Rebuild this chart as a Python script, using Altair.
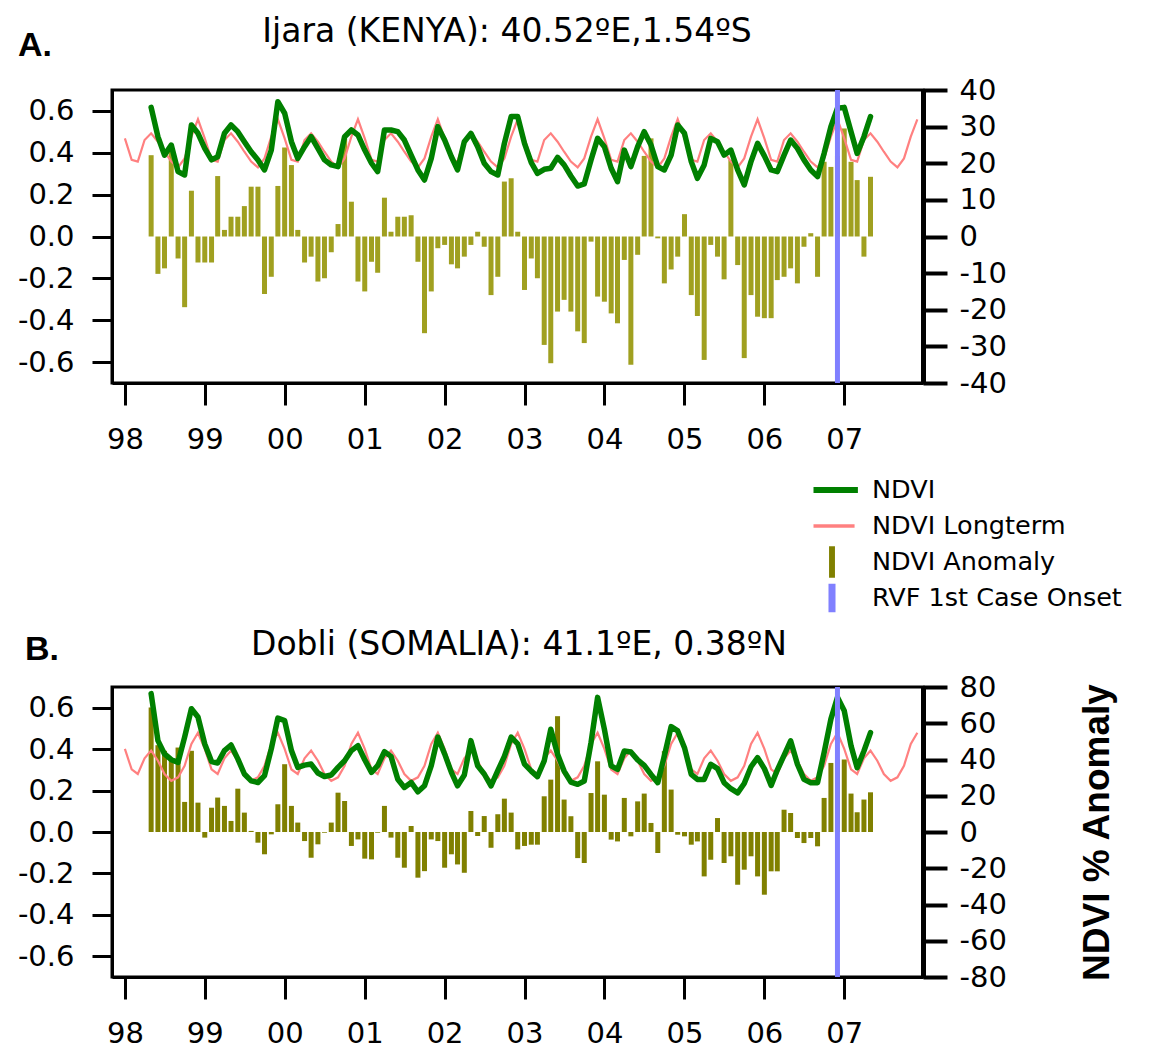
import altair as alt
import pandas as pd

# ---------------- data ----------------
# monthly values from May 1998 (first) to May 2007 (last)
A_NDVI = [0.617, 0.477, 0.389, 0.437, 0.310, 0.294, 0.533, 0.493, 0.421, 0.366, 0.381, 0.493,
          0.533, 0.501, 0.453, 0.405, 0.366, 0.318, 0.413, 0.644, 0.589, 0.453, 0.373, 0.429,
          0.477, 0.421, 0.366, 0.342, 0.334, 0.477, 0.509, 0.485, 0.413, 0.350, 0.310, 0.509,
          0.509, 0.501, 0.461, 0.389, 0.318, 0.270, 0.373, 0.525, 0.461, 0.381, 0.318, 0.453,
          0.493, 0.429, 0.350, 0.310, 0.294, 0.445, 0.573, 0.573, 0.445, 0.353, 0.302, 0.321,
          0.326, 0.378, 0.342, 0.289, 0.241, 0.251, 0.366, 0.469, 0.429, 0.326, 0.262, 0.413,
          0.334, 0.429, 0.501, 0.437, 0.334, 0.318, 0.389, 0.533, 0.493, 0.358, 0.278, 0.342,
          0.469, 0.453, 0.389, 0.413, 0.318, 0.246, 0.358, 0.445, 0.385, 0.318, 0.310, 0.389,
          0.461, 0.421, 0.366, 0.318, 0.286, 0.397, 0.525, 0.613, 0.617, 0.501, 0.397, 0.477,
          0.573]
A_ANOM = [22.2, -10.2, -8.7, 24.7, -6.0, -19.3, 12.5, -7.1, -7.1, -7.1, 16.5, 1.8,
          5.4, 5.4, 8.3, 13.6, 13.6, -15.7, -11.0, 13.8, 24.3, 19.5, 1.8, -7.1,
          -5.5, -12.3, -11.4, -4.3, 3.4, 26.8, 9.5, -12.3, -15.0, -6.9, -9.9, 10.6,
          1.3, 5.4, 5.4, 5.8, -6.9, -26.4, -15.0, -3.2, -2.3, -7.6, -8.7, -5.5,
          -2.3, 1.3, -2.8, -16.0, -11.0, 15.0, 15.9, 1.3, -14.6, -6.0, -11.4, -29.6,
          -34.6, -20.5, -17.3, -20.5, -25.9, -29.1, -1.4, -16.4, -17.8, -21.0, -23.7, -6.4,
          -35.0, -5.0, 22.0, 26.8, -0.5, -12.8, -9.0, -5.5, 6.1, -16.0, -21.7, -33.7,
          -2.3, -5.5, -11.7, 20.9, -7.8, -33.2, -16.0, -21.9, -22.3, -22.3, -11.9, -11.0,
          -8.7, -12.8, -2.8, 0.9, -11.0, 20.4, 19.0, 22.0, 29.5, 20.4, 15.4, -5.5,
          16.3]
# long-term NDVI, Jan 1998 .. Dec 2007 (one row per year)
A_LT = [
    0.469, 0.366, 0.358, 0.461, 0.493, 0.453, 0.405, 0.358, 0.330, 0.373, 0.477, 0.560,
    0.469, 0.366, 0.358, 0.461, 0.493, 0.453, 0.405, 0.358, 0.330, 0.373, 0.477, 0.560,
    0.469, 0.366, 0.358, 0.461, 0.493, 0.453, 0.405, 0.358, 0.330, 0.373, 0.477, 0.560,
    0.469, 0.366, 0.358, 0.461, 0.493, 0.453, 0.405, 0.358, 0.330, 0.373, 0.477, 0.560,
    0.469, 0.366, 0.358, 0.461, 0.493, 0.453, 0.405, 0.358, 0.330, 0.373, 0.477, 0.560,
    0.469, 0.366, 0.358, 0.461, 0.493, 0.453, 0.405, 0.358, 0.330, 0.373, 0.477, 0.560,
    0.469, 0.366, 0.358, 0.461, 0.493, 0.453, 0.405, 0.358, 0.330, 0.373, 0.477, 0.560,
    0.469, 0.366, 0.358, 0.461, 0.493, 0.453, 0.405, 0.358, 0.330, 0.373, 0.477, 0.560,
    0.469, 0.366, 0.358, 0.461, 0.493, 0.453, 0.405, 0.358, 0.330, 0.373, 0.477, 0.560,
    0.469, 0.366, 0.358, 0.461, 0.493, 0.453, 0.405, 0.358, 0.330, 0.373, 0.477, 0.560]

B_NDVI = [0.668, 0.441, 0.377, 0.349, 0.336, 0.458, 0.595, 0.555, 0.425, 0.340, 0.333, 0.393,
          0.420, 0.353, 0.280, 0.247, 0.239, 0.272, 0.401, 0.550, 0.538, 0.393, 0.312, 0.323,
          0.328, 0.285, 0.268, 0.275, 0.312, 0.344, 0.393, 0.417, 0.349, 0.288, 0.320, 0.388,
          0.365, 0.255, 0.215, 0.239, 0.194, 0.223, 0.320, 0.458, 0.377, 0.288, 0.223, 0.275,
          0.441, 0.320, 0.280, 0.223, 0.296, 0.365, 0.458, 0.425, 0.328, 0.294, 0.267, 0.343,
          0.496, 0.375, 0.294, 0.241, 0.230, 0.246, 0.432, 0.650, 0.496, 0.319, 0.302, 0.391,
          0.386, 0.348, 0.322, 0.278, 0.238, 0.367, 0.509, 0.488, 0.407, 0.278, 0.254, 0.254,
          0.327, 0.306, 0.238, 0.209, 0.189, 0.234, 0.315, 0.359, 0.306, 0.225, 0.299, 0.370,
          0.440, 0.327, 0.254, 0.238, 0.238, 0.383, 0.545, 0.650, 0.585, 0.416, 0.310, 0.391,
          0.480]
B_ANOM = [68.7, 47.9, 44.8, 40.2, 46.6, 16.6, 44.8, 16.2, -3.1, 13.4, 19.0, 14.4,
          6.1, 23.9, 10.7, 0.6, -5.9, -12.3, -1.3, 15.3, 37.4, 14.4, 5.2, -5.0,
          -14.2, -6.8, -0.4, 5.2, 21.7, 17.1, -7.7, -4.1, -14.7, -15.1, -0.4, 14.4,
          -3.1, -14.2, -19.7, 3.3, -25.2, -21.6, -4.1, -5.0, -19.7, -12.3, -17.9, -22.5,
          11.6, -2.2, 8.8, -8.7, 9.8, 18.4, 10.7, -9.6, -7.7, -7.0, -7.0, 19.7,
          28.9, 63.9, 17.9, 8.7, -14.4, -17.1, 21.5, 39.0, 20.6, -4.2, -5.2, 18.8,
          -2.4, 16.9, 21.2, 5.0, -11.6, 44.6, 23.4, -1.5, -2.4, -7.0, -5.2, -24.5,
          -15.3, 7.7, -17.1, -13.4, -29.1, -20.8, -13.4, -24.5, -34.6, -21.7, -21.7, 12.3,
          10.5, -3.3, -6.1, -3.3, -7.9, 18.8, 38.1, 40.0, 40.0, 21.2, 10.9, 17.9,
          21.9]
B_LT = [
    0.401, 0.302, 0.280, 0.356, 0.393, 0.344, 0.280, 0.247, 0.264, 0.320, 0.425, 0.479,
    0.401, 0.302, 0.280, 0.356, 0.393, 0.344, 0.280, 0.247, 0.264, 0.320, 0.425, 0.479,
    0.401, 0.302, 0.280, 0.356, 0.393, 0.344, 0.280, 0.247, 0.264, 0.320, 0.425, 0.479,
    0.401, 0.302, 0.280, 0.356, 0.393, 0.344, 0.280, 0.247, 0.264, 0.320, 0.425, 0.479,
    0.401, 0.302, 0.280, 0.356, 0.393, 0.344, 0.280, 0.247, 0.264, 0.320, 0.425, 0.479,
    0.401, 0.302, 0.280, 0.356, 0.393, 0.344, 0.280, 0.247, 0.264, 0.320, 0.425, 0.479,
    0.401, 0.302, 0.280, 0.356, 0.393, 0.344, 0.280, 0.247, 0.264, 0.320, 0.425, 0.479,
    0.401, 0.302, 0.280, 0.356, 0.393, 0.344, 0.280, 0.247, 0.264, 0.320, 0.425, 0.479,
    0.401, 0.302, 0.280, 0.356, 0.393, 0.344, 0.280, 0.247, 0.264, 0.320, 0.425, 0.479,
    0.401, 0.302, 0.280, 0.356, 0.393, 0.344, 0.280, 0.247, 0.264, 0.320, 0.425, 0.479]

RVF_ONSET = ["2006-12-01"]
YEAR_TICKS = [1998, 1999, 2000, 2001, 2002, 2003, 2004, 2005, 2006, 2007]
LEFT_TICKS = [-0.6, -0.4, -0.2, 0.0, 0.2, 0.4, 0.6]
A_RIGHT_TICKS = [-40, -30, -20, -10, 0, 10, 20, 30, 40]
B_RIGHT_TICKS = [-80, -60, -40, -20, 0, 20, 40, 60, 80]
LEGEND_NAMES = ["NDVI", "NDVI Longterm", "NDVI Anomaly", "RVF 1st Case Onset"]
LEGEND_COLORS = ["#008000", "#FF8080", "#808000", "#8080FF"]
LEGEND_SHAPES = ["M-1.4,-0.16H1.4V0.16H-1.4Z",
                 "M-1.22,-0.1H1.22V0.1H-1.22Z",
                 "M-0.16,-0.85H0.16V0.85H-0.16Z",
                 "M-0.19,-0.77H0.19V0.77H-0.19Z"]
TITLES = ["Ijara (KENYA): 40.52ºE,1.54ºS", "Dobli (SOMALIA): 41.1ºE, 0.38ºN"]
LETTERS = ["A.", "B."]


def month_list(y0, m0, n):
    out = []
    y, m = y0, m0
    for _ in range(n):
        out.append(f"{y:04d}-{m:02d}-01")
        m += 1
        if m > 12:
            m = 1
            y += 1
    return out


obs_dates = month_list(1998, 5, len(A_NDVI))
lt_dates = month_list(1998, 1, len(A_LT))

dfA = pd.DataFrame({"date": obs_dates, "ndvi": A_NDVI, "anom": A_ANOM})
dfB = pd.DataFrame({"date": obs_dates, "ndvi": B_NDVI, "anom": B_ANOM})
dfA_lt = pd.DataFrame({"date": lt_dates, "lt": A_LT})
dfB_lt = pd.DataFrame({"date": lt_dates, "lt": B_LT})
df_rvf = pd.DataFrame({"date": RVF_ONSET})

W = 811
FONT = "DejaVu Sans"
TICK_FS = 29

X = alt.X(
    "date:T",
    scale=alt.Scale(type="utc",
                    domain=[alt.DateTime(year=1997, month=11, date=26, utc=True),
                            alt.DateTime(year=2007, month=12, date=4, utc=True)]),
    axis=alt.Axis(values=[alt.DateTime(year=y, month=1, date=1, utc=True) for y in YEAR_TICKS],
                  labelExpr="utcFormat(datum.value, '%y')", title=None, tickSize=22,
                  tickWidth=3, domainWidth=3, domainColor="black", tickColor="black",
                  labelPadding=20, labelFontSize=TICK_FS, labelFont=FONT,
                  labelColor="black", grid=False),
)

left_axis = alt.Axis(orient="left", values=LEFT_TICKS, title=None, tickSize=20, tickWidth=3,
                     domainWidth=3, domainColor="black", tickColor="black",
                     labelPadding=18, labelFontSize=TICK_FS, labelFont=FONT,
                     labelColor="black", grid=False,
                     labelExpr="datum.value < 0 ? '-' + format(-datum.value, '.1f') : format(datum.value, '.1f')")


def panel(df, df_lt, rdomain, rticks, bar_color, title, title_x, title_y, letter,
          letter_x, letter_y, height, right_title=None, with_legend=False):
    raxis_kw = dict(orient="right", values=rticks, tickSize=24, tickWidth=4, domainWidth=5,
                    domainColor="black", tickColor="black",
                    labelPadding=12, labelFontSize=TICK_FS, labelFont=FONT, labelColor="black",
                    grid=False,
                    labelExpr="datum.value < 0 ? '-' + format(-datum.value, 'd') : format(datum.value, 'd')")
    if right_title:
        raxis_kw.update(title=right_title, titleFont="Liberation Sans", titleFontWeight="bold",
                        titleFontSize=37, titleAngle=270, titleX=174, titleY=height / 2,
                        titleAlign="center", titleBaseline="middle", titleColor="black")
    else:
        raxis_kw.update(title=None)

    bars = alt.Chart(df).mark_bar(size=5, color=bar_color).encode(
        x=X,
        y=alt.Y("anom:Q", scale=alt.Scale(domain=rdomain), axis=alt.Axis(**raxis_kw), stack=None),
    )
    yl = alt.Y("lt:Q", scale=alt.Scale(domain=[-0.7, 0.7]), axis=left_axis)
    pink = alt.Chart(df_lt).mark_line(color="#FF8080", strokeWidth=2.2).encode(x=X, y=yl)
    green = alt.Chart(df).mark_line(color="#008000", strokeWidth=5.5, strokeJoin="round",
                                    strokeCap="round").encode(
        x=X, y=alt.Y("ndvi:Q", scale=alt.Scale(domain=[-0.7, 0.7]), axis=left_axis))
    blue = alt.Chart(df_rvf).mark_rule(color="#8080FF", strokeWidth=5).encode(x=X)

    ttl = alt.Chart(pd.DataFrame({"t": [title]})).mark_text(
        font=FONT, fontSize=33, align="center", baseline="alphabetic", color="black"
    ).encode(text="t:N", x=alt.value(title_x), y=alt.value(title_y))
    let = alt.Chart(pd.DataFrame({"t": [letter]})).mark_text(
        font="Liberation Sans", fontWeight="bold", fontSize=34, align="left",
        baseline="alphabetic", color="black"
    ).encode(text="t:N", x=alt.value(letter_x), y=alt.value(letter_y))

    inner_layers = [pink, green, blue, ttl, let]
    if with_legend:
        leg = alt.Legend(orient="none", legendX=701.5, legendY=384, title=None,
                         labelFont=FONT, labelFontSize=25.5, labelColor="black",
                         labelLimit=400, symbolSize=1369, clipHeight=32, rowPadding=4,
                         labelOffset=21.5, padding=0, symbolStrokeWidth=0,
                         symbolOpacity=1, direction="vertical")
        dummy = alt.Chart(pd.DataFrame({"series": LEGEND_NAMES})).transform_filter(
            "false").mark_point(filled=True, opacity=1).encode(
            color=alt.Color("series:N", scale=alt.Scale(domain=LEGEND_NAMES, range=LEGEND_COLORS),
                            legend=leg),
            shape=alt.Shape("series:N", scale=alt.Scale(domain=LEGEND_NAMES, range=LEGEND_SHAPES),
                            legend=leg),
        )
        inner_layers.append(dummy)
    inner = alt.layer(*inner_layers)
    return alt.layer(bars, inner).resolve_scale(y="independent").properties(
        width=W, height=height,
        view=alt.ViewConfig(stroke="#000000", strokeWidth=3, strokeOpacity=1))


pA = panel(dfA, dfA_lt, [-40, 40], A_RIGHT_TICKS, "#A0A020", TITLES[0], 395, -48, LETTERS[0],
           -94, -34, 293, with_legend=True)
pB = panel(dfB, dfB_lt, [-80, 80], B_RIGHT_TICKS, "#808000", TITLES[1], 407, -32, LETTERS[1],
           -87, -27, 290, right_title="NDVI % Anomaly")

chart = alt.vconcat(pA, pB, spacing=304, bounds="flush").resolve_scale(
    x="independent", y="independent", color="independent", shape="independent"
).resolve_legend(color="independent", shape="independent").configure_view(
    stroke="#000000", strokeWidth=3, strokeOpacity=1
).configure_axis(domainColor="black", tickColor="black", domainOpacity=1, tickOpacity=1
).configure(font=FONT, background="white").properties(
    padding={"left": 7, "top": 6, "right": 0, "bottom": 5}
)

chart.save("out.html", embed_options={"renderer": "svg", "actions": False})
